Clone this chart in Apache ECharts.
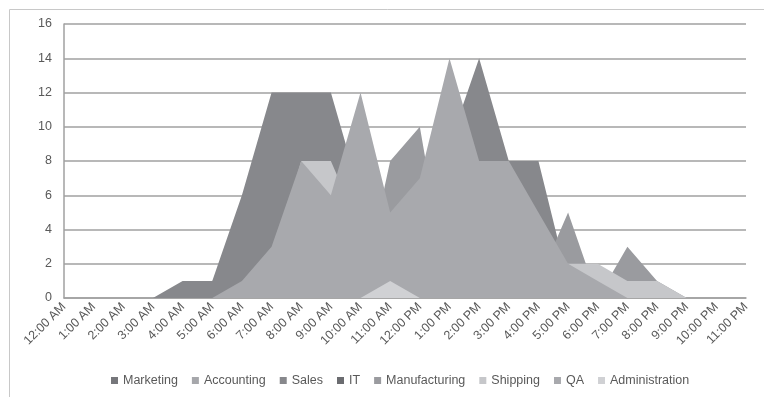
<!DOCTYPE html>
<html><head><meta charset="utf-8">
<script src="https://cdn.jsdelivr.net/npm/echarts@6/dist/echarts.min.js"></script>
<style>html,body{margin:0;padding:0;background:#fff}#c{width:764px;height:397px}</style>
</head><body><div id="c"></div>
<script>
const hours = ['12:00 AM','1:00 AM','2:00 AM','3:00 AM','4:00 AM','5:00 AM','6:00 AM','7:00 AM','8:00 AM','9:00 AM','10:00 AM','11:00 AM','12:00 PM','1:00 PM','2:00 PM','3:00 PM','4:00 PM','5:00 PM','6:00 PM','7:00 PM','8:00 PM','9:00 PM','10:00 PM','11:00 PM'];
const marketing     = [0,0,0,0,0,1,2,4,6,5,4,2,3,4,5,3,2,1,0,0,0,0,0,0];
const accounting    = [0,0,0,0,0,0,1,2,5,4,6,3,5,7,6,5,3,1,0,0,0,0,0,0];
const sales         = [0,0,0,0,1,1,6,12,12,12,6,5,6,9,14,8,8,1,0,0,0,0,0,0];
const it            = [0,0,0,0,0,0,0,2,4,3,5,3,4,6,5,4,3,1,0,0,0,0,0,0];
const manufacturing = [0,0,0,0,0,0,0,0,0,0,0,8,10,0,0,0,1,5,0,3,1,0,0,0];
const shipping      = [0,0,0,0,0,0,0,2,8,8,4,3,4,4,4,3,2,2,2,1,1,0,0,0];
const qa            = [0,0,0,0,0,0,1,3,8,6,12,5,7,14,8,8,5,2,1,0,0,0,0,0];
const administration= [0,0,0,0,0,0,0,0,0,0,0,1,0,0,0,0,0,0,0,0,0,0,0,0];
const yTicks = {min:0, max:16, interval:2};

const names = ['Marketing','Accounting','Sales','IT','Manufacturing','Shipping','QA','Administration'];
const data = [marketing,accounting,sales,it,manufacturing,shipping,qa,administration];
const colors = ['#76777b','#a6a7ab','#87888c','#6b6c70','#9a9b9f','#c6c7ca','#a8a9ad','#d0d1d4'];
const font = "'Liberation Sans', Arial, sans-serif";

const chart = echarts.init(document.getElementById('c'), null, {renderer:'canvas'});
chart.setOption({
  animation:false,
  color: colors,
  graphic:[{type:'rect', shape:{x:9.5,y:9.5,width:800,height:500}, style:{fill:'none',stroke:'#c8c8c8',lineWidth:1}, silent:true, z:-1}],
  grid:{left:64, right:18, top:24, bottom:99, containLabel:false},
  legend:{
    data:names, bottom:5, left:106, itemWidth:7, itemHeight:7, itemGap:14, icon:'rect',
    textStyle:{fontFamily:font, fontSize:12.5, color:'#595959'}
  },
  xAxis:{
    type:'category', data:hours, boundaryGap:false,
    axisLine:{show:true, lineStyle:{color:'#a0a0a0', width:1.5}},
    axisTick:{show:false},
    axisLabel:{interval:0, rotate:45, fontFamily:font, fontSize:12.5, color:'#595959', margin:7}
  },
  yAxis:{
    type:'value', min:yTicks.min, max:yTicks.max, interval:yTicks.interval,
    axisLine:{show:true, lineStyle:{color:'#a0a0a0', width:1.5}},
    axisTick:{show:false},
    splitLine:{lineStyle:{color:'#a0a0a0', width:1.5}},
    axisLabel:{fontFamily:font, fontSize:12.5, color:'#595959', margin:12}
  },
  series: names.map((n,i)=>({
    name:n, type:'line', data:data[i], showSymbol:false, symbol:'none',
    lineStyle:{width:0}, areaStyle:{color:colors[i], opacity:1}, itemStyle:{color:colors[i]},
    z: 2
  }))
});
</script></body></html>
